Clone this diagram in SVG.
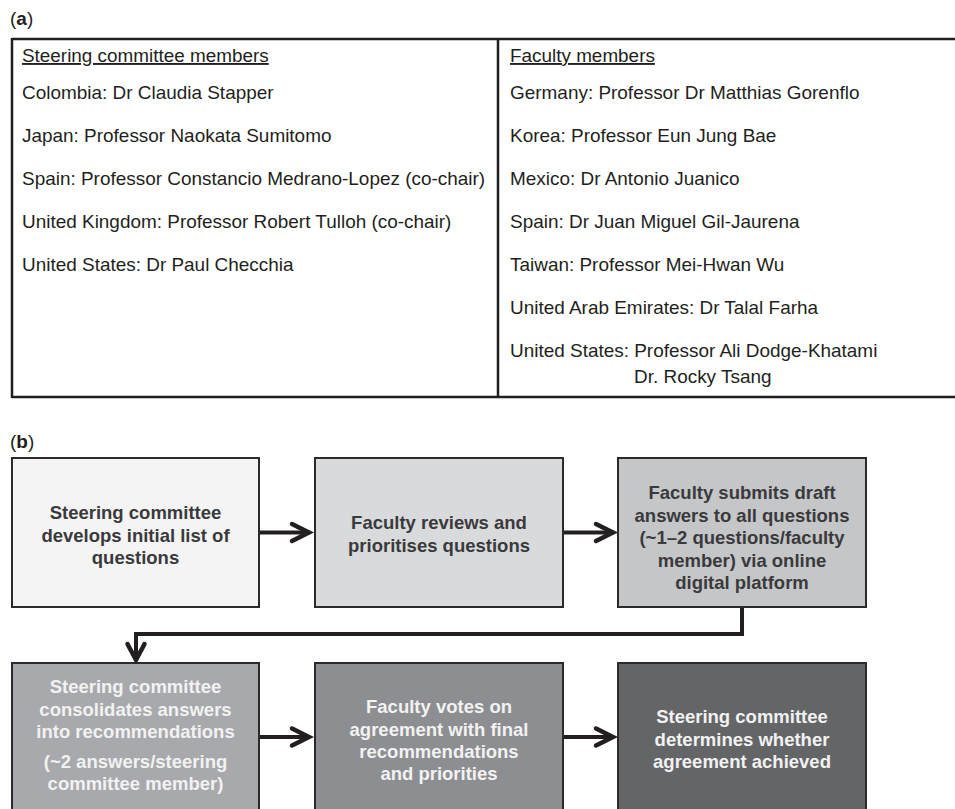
<svg xmlns="http://www.w3.org/2000/svg" width="955" height="809" viewBox="0 0 955 809">
<style>
text{font-family:"Liberation Sans",Arial,sans-serif;}
.t{font-size:18.95px;fill:#231f20;}
.lbl{font-size:19px;fill:#231f20;}
.hd{font-size:18.9px;fill:#231f20;text-decoration:underline;}
.rule{stroke:#231f20;stroke-width:2.5;fill:none;}
.box{stroke:#2b2b2b;stroke-width:2;}
.bt{font-size:18.5px;font-weight:bold;text-anchor:middle;}
.dk{fill:#3a3a3c;}
.lt{fill:#f2f2f2;}
.conn{stroke:#231f20;stroke-width:4;fill:none;}
.head{stroke:#231f20;stroke-width:4.5;fill:none;stroke-linecap:round;stroke-linejoin:miter;}
</style>
<g id="panel-a">
<text class="lbl" x="10" y="25">(<tspan font-weight="bold">a</tspan>)</text>
<g id="table">
<line class="rule" x1="12" y1="39" x2="955" y2="39"/>
<line class="rule" x1="12" y1="397" x2="955" y2="397"/>
<line class="rule" x1="12" y1="38" x2="12" y2="398"/>
<line class="rule" x1="498" y1="39" x2="498" y2="397"/>
</g>
<g id="steering-members">
<text class="hd" x="22" y="62">Steering committee members</text>
<text class="t" x="22" y="99">Colombia: Dr Claudia Stapper</text>
<text class="t" x="22" y="142">Japan: Professor Naokata Sumitomo</text>
<text class="t" x="22" y="185">Spain: Professor Constancio Medrano-Lopez (co-chair)</text>
<text class="t" x="22" y="228">United Kingdom: Professor Robert Tulloh (co-chair)</text>
<text class="t" x="22" y="271">United States: Dr Paul Checchia</text>
</g>
<g id="faculty-members">
<text class="hd" x="510" y="62">Faculty members</text>
<text class="t" x="510" y="99">Germany: Professor Dr Matthias Gorenflo</text>
<text class="t" x="510" y="142">Korea: Professor Eun Jung Bae</text>
<text class="t" x="510" y="185">Mexico: Dr Antonio Juanico</text>
<text class="t" x="510" y="228">Spain: Dr Juan Miguel Gil-Jaurena</text>
<text class="t" x="510" y="271">Taiwan: Professor Mei-Hwan Wu</text>
<text class="t" x="510" y="314">United Arab Emirates: Dr Talal Farha</text>
<text class="t" x="510" y="357">United States: Professor Ali Dodge-Khatami</text>
<text class="t" x="634" y="383">Dr. Rocky Tsang</text>
</g>
</g>
<g id="panel-b">
<text class="lbl" x="10" y="448">(<tspan font-weight="bold">b</tspan>)</text>
<g id="connectors">
<line class="conn" x1="260" y1="532.5" x2="306" y2="532.5"/>
<polyline class="head" points="292,524 309,532.5 292,541"/>
<line class="conn" x1="564" y1="532.5" x2="610" y2="532.5"/>
<polyline class="head" points="596,524 613,532.5 596,541"/>
<polyline class="conn" points="742,607 742,634 136,634 136,658"/>
<polyline class="head" points="127.5,644 136,660 144.5,644"/>
<line class="conn" x1="260" y1="737" x2="306" y2="737"/>
<polyline class="head" points="292,728.5 309,737 292,745.5"/>
<line class="conn" x1="564" y1="737" x2="610" y2="737"/>
<polyline class="head" points="596,728.5 613,737 596,745.5"/>
</g>
<g id="n1">
<rect class="box" x="12" y="458" width="247" height="149" fill="#f4f4f4"/>
<text class="bt dk" x="135.5" y="519">Steering committee</text>
<text class="bt dk" x="135.5" y="541.5">develops initial list of</text>
<text class="bt dk" x="135.5" y="564">questions</text>
</g>
<g id="n2">
<rect class="box" x="315" y="458" width="248" height="149" fill="#d9dadc"/>
<text class="bt dk" x="439" y="529">Faculty reviews and</text>
<text class="bt dk" x="439" y="551.5">prioritises questions</text>
</g>
<g id="n3">
<rect class="box" x="618" y="458" width="248" height="149" fill="#c5c6c8"/>
<text class="bt dk" x="742" y="499">Faculty submits draft</text>
<text class="bt dk" x="742" y="521.5">answers to all questions</text>
<text class="bt dk" x="742" y="544">(~1–2 questions/faculty</text>
<text class="bt dk" x="742" y="566.5">member) via online</text>
<text class="bt dk" x="742" y="589">digital platform</text>
</g>
<g id="n4">
<rect class="box" x="12" y="663" width="247" height="160" fill="#a8a9ac"/>
<text class="bt lt" x="135.5" y="693">Steering committee</text>
<text class="bt lt" x="135.5" y="715.5">consolidates answers</text>
<text class="bt lt" x="135.5" y="738">into recommendations</text>
<text class="bt lt" x="135.5" y="768">(~2 answers/steering</text>
<text class="bt lt" x="135.5" y="790">committee member)</text>
</g>
<g id="n5">
<rect class="box" x="315" y="663" width="248" height="160" fill="#8d8e91"/>
<text class="bt lt" x="439" y="713">Faculty votes on</text>
<text class="bt lt" x="439" y="735.5">agreement with final</text>
<text class="bt lt" x="439" y="758">recommendations</text>
<text class="bt lt" x="439" y="780">and priorities</text>
</g>
<g id="n6">
<rect class="box" x="618" y="663" width="248" height="160" fill="#646567"/>
<text class="bt lt" x="742" y="723">Steering committee</text>
<text class="bt lt" x="742" y="745.5">determines whether</text>
<text class="bt lt" x="742" y="768">agreement achieved</text>
</g>
</g>
</svg>
